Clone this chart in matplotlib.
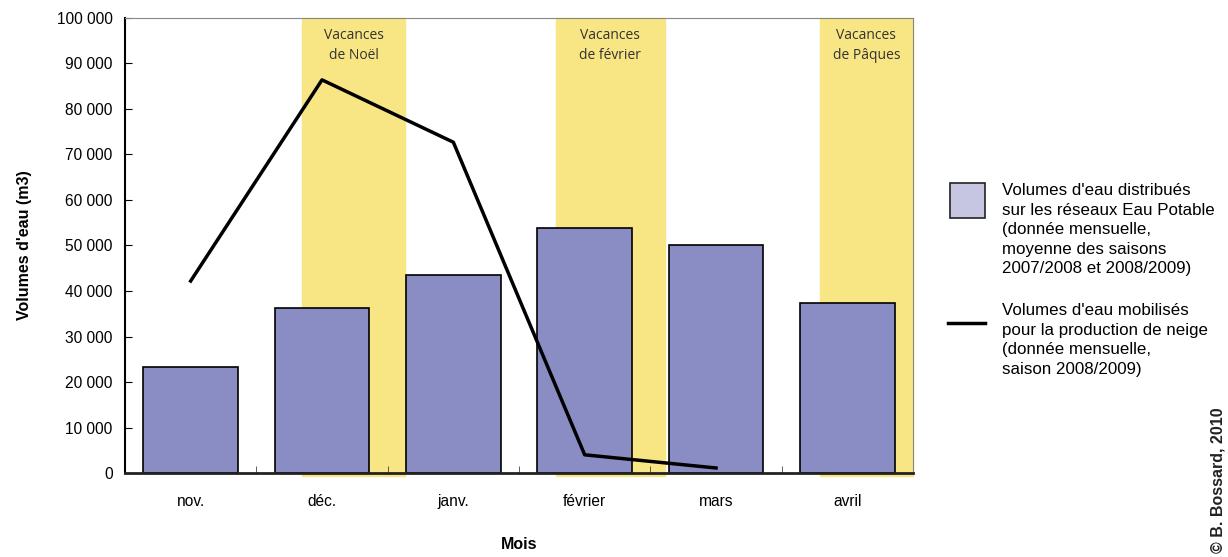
import matplotlib.pyplot as plt
from matplotlib.patches import Rectangle
from matplotlib.lines import Line2D

plt.rcParams['font.family'] = ['Liberation Sans', 'DejaVu Sans']

## Data
mois = ["nov.", "déc.", "janv.", "février", "mars", "avril"]
eau_potable = [23300, 36300, 43500, 53800, 50100, 37400]
neige_mois = ["nov.", "déc.", "janv.", "février", "mars"]
neige = [42200, 86400, 72700, 4000, 1100]

vacances_labels = ["Vacances\nde Noël", "Vacances\nde février", "Vacances\nde Pâques"]
vacances_debut = [0.85, 2.78, 4.79]
vacances_fin = [1.63, 3.61, 5.5]

legende_eau = "Volumes d'eau distribués\nsur les réseaux Eau Potable\n(donnée mensuelle,\nmoyenne des saisons\n2007/2008 et 2008/2009)"
legende_neige = "Volumes d'eau mobilisés\npour la production de neige\n(donnée mensuelle,\nsaison 2008/2009)"

## Figure
W, H = 1228, 557
fig = plt.figure(figsize=(W / 100, H / 100), dpi=100)
ax = fig.add_axes([0.1018, 0.1508, 0.6417, 0.8169])

x = list(range(len(mois)))

# holiday bands (slightly below the x axis)
for d, f, lab in zip(vacances_debut, vacances_fin, vacances_labels):
    ax.axvspan(d, f, ymin=-0.006, ymax=1, color='#f8e584', zorder=0, clip_on=False)
    ax.text((d + f) / 2, 97700, lab, ha='center', va='top', fontsize=10,
            family=['Open Sans', 'DejaVu Sans'], color='#333333', linespacing=1.45)

ax.bar(x, eau_potable, width=0.72, color='#8a8cc4', edgecolor='black', linewidth=1.2, zorder=2)
ax.plot([mois.index(m) for m in neige_mois], neige, color='black', linewidth=2.5, zorder=3)

ax.set_xlim(-0.5, 5.5)
ax.set_ylim(0, 100000)
ax.set_yticks(range(0, 100001, 10000))
ax.set_yticklabels(["{:,}".format(v).replace(",", " ") for v in range(0, 100001, 10000)], fontsize=11.2)
ax.set_xticks(x)
ax.set_xticklabels(mois, fontsize=11.2)
ax.set_xticks([i + 0.5 for i in range(5)], minor=True)
ax.tick_params(axis='x', which='major', length=0, pad=15)
ax.tick_params(axis='x', which='minor', direction='in', length=5, color='#444444')
ax.tick_params(axis='y', direction='in', length=5, pad=9)

ax.spines['top'].set_color('#888888')
ax.spines['right'].set_color('#888888')
ax.spines['left'].set_linewidth(1.5)
ax.spines['bottom'].set_linewidth(2)
ax.spines['bottom'].set_color('#222222')

ax.set_ylabel("Volumes d'eau (m3)", fontsize=11.5, fontweight='bold', labelpad=18)
ax.set_xlabel("Mois", fontsize=11.5, fontweight='bold', labelpad=20)

# legend, drawn by hand in figure pixels
fig.add_artist(Rectangle((950 / W, 1 - 218 / H), 35 / W, 35 / H, transform=fig.transFigure,
                         facecolor='#c6c6e2', edgecolor='#222222', linewidth=1.2))
fig.add_artist(Line2D([948 / W, 985 / W], [1 - 323 / H] * 2, transform=fig.transFigure,
                      color='black', linewidth=2.5))
fig.text(1002 / W, 1 - 183 / H, legende_eau, ha='left', va='top', fontsize=12.2, linespacing=1.38)
fig.text(1002 / W, 1 - 303 / H, legende_neige, ha='left', va='top', fontsize=12.2, linespacing=1.38)

fig.text(1218 / W, 1 - 553 / H, "© B. Bossard, 2010", rotation=90, ha='center', va='bottom',
         fontsize=11.5, fontweight='bold', color='#222222')

fig.savefig("out.png", dpi=100)
